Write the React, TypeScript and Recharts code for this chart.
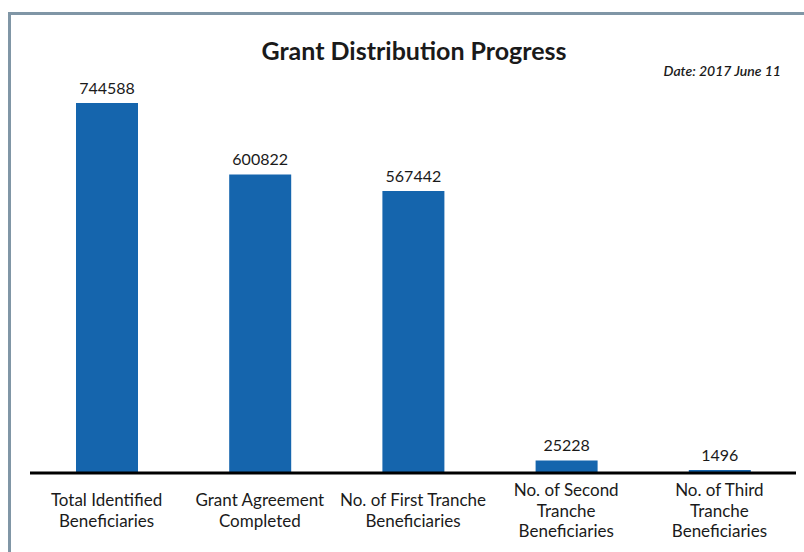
import { BarChart, Bar, XAxis, YAxis, LabelList } from "recharts";

const categories = [
  "Total Identified\nBeneficiaries",
  "Grant Agreement\nCompleted",
  "No. of First Tranche\nBeneficiaries",
  "No. of Second\nTranche\nBeneficiaries",
  "No. of Third\nTranche\nBeneficiaries",
];

const beneficiaries = [744588, 600822, 567442, 25228, 1496];

const data = categories.map((name, i) => ({ name, value: beneficiaries[i] }));

const FONT = "Lato, 'Open Sans', sans-serif";

function CategoryTick(props: any) {
  const { x, y, payload } = props;
  const lines: string[] = String(payload.value).split("\n");
  const lh = 20.5;
  const center = y + 29;
  const first = center - ((lines.length - 1) * lh) / 2;
  return (
    <g>
      {lines.map((line, i) => (
        <text
          key={i}
          x={x}
          y={first + i * lh}
          textAnchor="middle"
          dominantBaseline="central"
          fontFamily={FONT}
          fontSize={17}
          fill="#1a1a1a"
        >
          {line}
        </text>
      ))}
    </g>
  );
}

export default function App() {
  return (
    <div
      style={{
        position: "absolute",
        left: 0,
        top: 0,
        width: 804,
        height: 552,
        overflow: "hidden",
        background: "#fff",
        fontFamily: FONT,
      }}
    >
      <div
        style={{
          position: "absolute",
          left: 8,
          top: 12,
          width: 820,
          height: 560,
          borderTop: "3px solid #8096a6",
          borderLeft: "3px solid #8096a6",
        }}
      />
      <div
        style={{
          position: "absolute",
          left: 0,
          width: 828,
          top: 35,
          textAlign: "center",
          fontSize: 25,
          fontWeight: 700,
          color: "#1a1a1a",
          lineHeight: "30px",
        }}
      >
        Grant Distribution Progress
      </div>
      <div
        style={{
          position: "absolute",
          right: 23,
          top: 63,
          fontSize: 14,
          fontStyle: "italic",
          fontWeight: 600,
          color: "#1a1a1a",
          lineHeight: "16px",
        }}
      >
        Date: 2017 June 11
      </div>
      <div style={{ position: "absolute", left: 0, top: 0 }}>
        <BarChart
          width={804}
          height={552}
          data={data}
          margin={{ top: 103, right: 8, bottom: 49, left: 30 }}
        >
          <XAxis
            dataKey="name"
            axisLine={{ stroke: "#000", strokeWidth: 3 }}
            tickLine={false}
            tick={<CategoryTick />}
            interval={0}
          />
          <YAxis hide domain={[0, "dataMax"]} />
          <Bar
            dataKey="value"
            fill="#1565ad"
            barSize={62}
            minPointSize={3}
            isAnimationActive={false}
          >
            <LabelList
              dataKey="value"
              position="top"
              offset={9}
              fill="#1a1a1a"
              fontSize={16}
              fontFamily={FONT}
            />
          </Bar>
        </BarChart>
      </div>
    </div>
  );
}
